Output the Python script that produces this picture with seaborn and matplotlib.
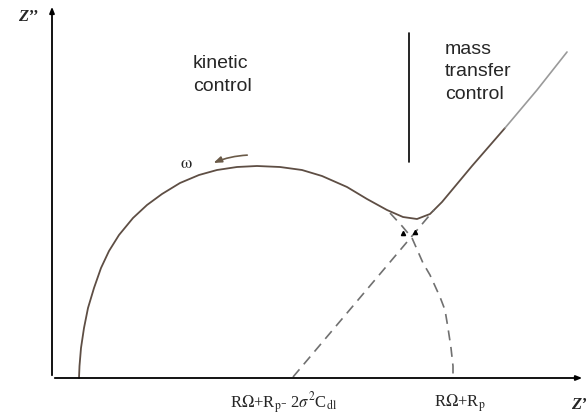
import matplotlib
import numpy as np
import pandas as pd
import seaborn as sns

matplotlib.use("Agg")
import matplotlib.pyplot as plt  # noqa: E402

# Nyquist sketch, units roughly in pixels of the original picture
curve_x = [27, 27.5, 29, 32, 36, 42, 49, 57, 67, 81, 95, 110, 128, 147, 165, 185,
           205, 228, 250, 270, 295, 315, 335, 351, 365, 378, 390, 420, 453]
curve_y = [0, 12, 30, 50, 70, 90, 110, 127, 143, 160, 173, 184, 195, 203, 208, 211,
           212, 211, 208, 202, 191, 179, 168, 161, 159, 164, 176, 212, 250]
tail_x = [453, 485, 515]
tail_y = [250, 288, 326]
dash_line_x = [241, 382]
dash_line_y = [1, 168]
dash_arc_x = [338, 350, 360, 371, 378, 388, 393, 396, 399, 401, 401]
dash_arc_y = [165, 152, 140, 115, 103, 81, 68, 50, 30, 12, 1]
divider_x = [357, 357]
divider_y = [216, 345]
tick_labels = [r"R$\Omega$+R$_{\rm p}$- 2$\sigma^2$C$_{\rm dl}$", r"R$\Omega$+R$_{\rm p}$"]
tick_pos = [232, 408]

curve_color = "#5e4e44"
dash_color = "#707070"

sns.set_theme(style="white")
plt.rcParams["mathtext.fontset"] = "stix"
plt.rcParams["font.family"] = ["Liberation Sans", "DejaVu Sans"]

fig = plt.figure(figsize=(5.87, 4.18), dpi=100)
ax = fig.add_axes([0, 0, 1, 1])
ax.set_xlim(-52, 535)
ax.set_ylim(-40, 378)
ax.axis("off")

curve = pd.DataFrame({"x": curve_x, "y": curve_y})
sns.lineplot(data=curve, x="x", y="y", sort=False, estimator=None, ax=ax,
             color=curve_color, lw=1.3)
ax.plot(tail_x, tail_y, color="#9a9a9a", lw=1.2)
ax.plot(dash_line_x, dash_line_y, color=dash_color, lw=1.2, dashes=(6, 4))
ax.plot(dash_arc_x, dash_arc_y, color=dash_color, lw=1.2, dashes=(6, 4))
ax.plot(divider_x, divider_y, color="black", lw=1.2)
ax.plot([351, 363], [145, 146], ls="none", marker="^", ms=3, color="black")

# axes with arrows
ax.annotate("", xy=(0, 374), xytext=(0, 0),
            arrowprops=dict(arrowstyle="-|>,head_width=0.12,head_length=0.3", color="black", lw=1.3))
ax.annotate("", xy=(533, 0), xytext=(0, 0),
            arrowprops=dict(arrowstyle="-|>,head_width=0.12,head_length=0.3", color="black", lw=1.3))

# omega arrow
ax.annotate("", xy=(159, 214), xytext=(198, 223),
            arrowprops=dict(arrowstyle="-|>,head_width=0.15,head_length=0.4", color="#6a5a48",
                            lw=1.2, connectionstyle="arc3,rad=0.1"))
ax.text(134, 215, r"$\mathrm{\omega}$", fontsize=13, ha="center", va="center")

ax.text(141, 303, "kinetic\ncontrol", fontsize=14, ha="left", va="center", linespacing=1.4)
ax.text(393, 306, "mass\ntransfer\ncontrol", fontsize=14, ha="left", va="center", linespacing=1.4)

serif = ["Liberation Serif", "DejaVu Serif"]
ax.text(-24, 361, "Z’’", fontsize=12, ha="center", va="center", family=serif,
        style="italic", weight="bold")
ax.text(527, -27, "Z’", fontsize=12, ha="center", va="center", family=serif,
        style="italic", weight="bold")
for label, pos in zip(tick_labels, tick_pos):
    ax.text(pos, -25, label, fontsize=12, ha="center", va="center", family=serif)

fig.savefig("out.png", dpi=100)
